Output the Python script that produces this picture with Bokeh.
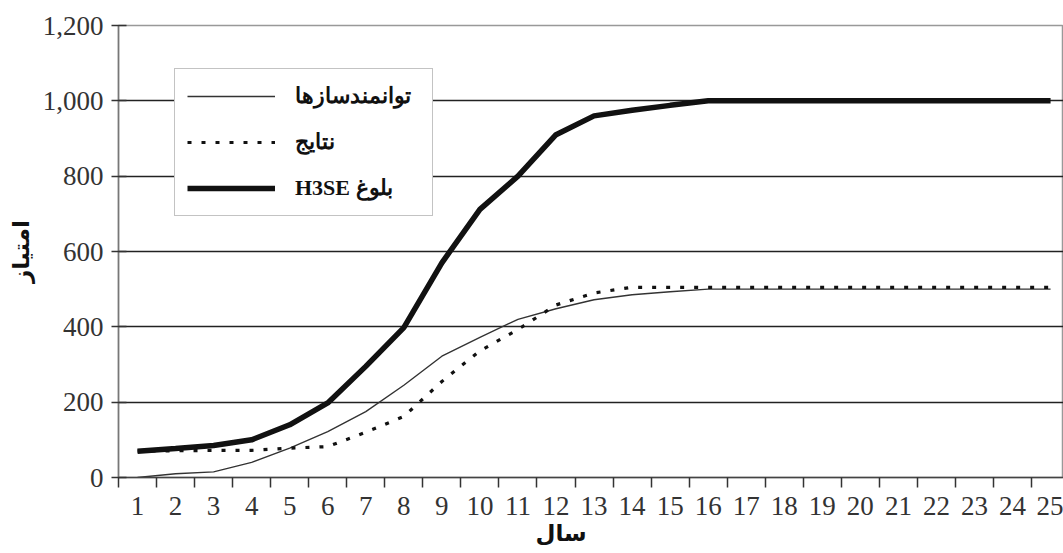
from bokeh.plotting import figure
from bokeh.models import FixedTicker, NumeralTickFormatter, Range1d, Title
from bokeh.embed import file_html
from bokeh.resources import INLINE

# ---- data ----
years = list(range(1, 26))
enablers = [0, 10, 15, 40, 78, 122, 175, 245, 322, 372, 420, 448, 472, 485, 493,
            500, 500, 500, 500, 500, 500, 500, 500, 500, 500]
results = [70, 71, 72, 72, 78, 82, 120, 162, 255, 336, 393, 458, 490, 505, 505,
           505, 505, 505, 505, 505, 505, 505, 505, 505, 505]
maturity = [70, 77, 85, 100, 140, 198, 295, 398, 570, 712, 800, 910, 960, 975, 988,
            1000, 1000, 1000, 1000, 1000, 1000, 1000, 1000, 1000, 1000]
y_ticks = [0, 200, 400, 600, 800, 1000, 1200]
label_enablers = "توانمندسازها"
label_results = "نتایج"
label_maturity = "\u202bبلوغ H3SE\u202c"
x_title = "سال"
y_title = "امتیاز"

p = figure(output_backend="svg", toolbar_location=None,
           frame_width=945, frame_height=452,
           x_range=Range1d(0.5, 25.34), y_range=Range1d(0, 1200),
           min_border_left=118, min_border_right=0, min_border_top=25,
           min_border_bottom=40, background_fill_color="white",
           border_fill_color="white")
p.outline_line_color = "#999999"
p.outline_line_width = 1.5

p.line(years, enablers, line_color="#333333", line_width=1.4,
       legend_label=label_enablers)
p.line(years, results, line_color="#111111", line_width=3.2,
       line_dash="4 10", legend_label=label_results)
p.line(years, maturity, line_color="#111111", line_width=5.5,
       legend_label=label_maturity)

# x axis
xa = p.xaxis[0]
xa.ticker = FixedTicker(ticks=years, minor_ticks=[y + 0.5 for y in range(0, 26)])
xa.major_tick_out = 0
xa.major_tick_in = 0
xa.minor_tick_out = 10
xa.minor_tick_in = 0
xa.minor_tick_line_color = "#333333"
xa.minor_tick_line_width = 1.5
xa.axis_line_color = "#444444"
xa.axis_line_width = 1.5
xa.major_label_text_font = "Liberation Serif"
xa.major_label_text_font_size = "27px"
xa.major_label_text_color = "#333333"
xa.major_label_standoff = 9

# x title placed off-centre as in the reference
p.add_layout(Title(text=x_title, align="left", offset=417,
                   text_font="DejaVu Sans", text_font_style="bold",
                   text_font_size="23px", text_color="#111111",
                   standoff=0), "below")

# y axis
ya = p.yaxis[0]
ya.ticker = FixedTicker(ticks=y_ticks, minor_ticks=[])
ya.formatter = NumeralTickFormatter(format="0,0")
ya.major_tick_in = 8
ya.major_tick_out = 7
ya.major_tick_line_color = "#333333"
ya.major_tick_line_width = 1.5
ya.axis_line_color = "#777777"
ya.axis_line_width = 1.5
ya.major_label_text_font = "Liberation Serif"
ya.major_label_text_font_size = "27px"
ya.major_label_text_color = "#333333"
ya.major_label_standoff = 8
ya.axis_label = y_title
ya.axis_label_text_font = "DejaVu Sans"
ya.axis_label_text_font_style = "bold"
ya.axis_label_text_font_size = "23px"
ya.axis_label_text_color = "#111111"
ya.axis_label_standoff = 6

# grid
p.xgrid.grid_line_color = None
p.ygrid.ticker = FixedTicker(ticks=y_ticks)
p.ygrid.grid_line_color = "#222222"
p.ygrid.grid_line_width = 1.6

# legend
lg = p.legend[0]
lg.location = (56, 261)
lg.glyph_width = 88
lg.glyph_height = 30
lg.label_height = 30
lg.label_width = 125
lg.label_standoff = 20
lg.spacing = 16
lg.padding = 12
lg.margin = 0
lg.border_line_color = "#888888"
lg.border_line_width = 1.5
lg.background_fill_alpha = 1.0
lg.label_text_font = "Liberation Serif"
lg.label_text_font_style = "bold"
lg.label_text_font_size = "22px"
lg.label_text_color = "#111111"

open("out.html", "w").write(file_html(p, INLINE))
